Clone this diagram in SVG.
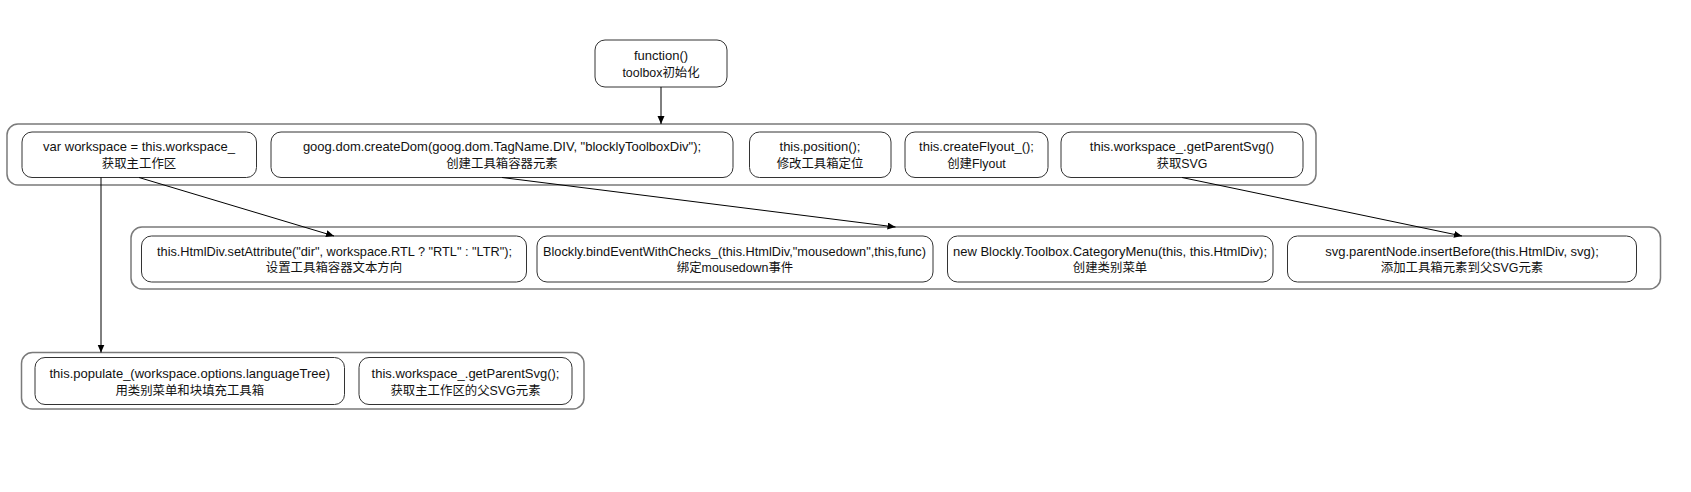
<svg xmlns="http://www.w3.org/2000/svg" width="1691" height="492" viewBox="0 0 1691 492">
<style>
  .outer { fill: #ffffff; stroke: #7a7a7a; stroke-width: 1.5; }
  .node { fill: #ffffff; stroke: #333333; stroke-width: 1; }
  text { font-family: "Liberation Sans", "Noto Sans CJK SC", sans-serif; font-size: 13px; fill: #111111; text-anchor: middle; }
  .l2 { font-size: 12.4px; }
  .conn { stroke: #000000; stroke-width: 1; fill: none; marker-end: url(#arrow); }
</style>
<defs>
  <marker id="arrow" markerUnits="userSpaceOnUse" markerWidth="9" markerHeight="8" refX="8" refY="3.5" orient="auto">
    <path d="M0,0 L8,3.5 L0,7 z" fill="#000000"/>
  </marker>
</defs>
<rect width="1691" height="492" fill="#ffffff"/>

<g id="group-row1">
  <rect class="outer" x="7" y="124" width="1309" height="61" rx="11"/>
</g>
<g id="group-row2">
  <rect class="outer" x="131" y="227" width="1529.5" height="62" rx="11"/>
</g>
<g id="group-row3">
  <rect class="outer" x="21.5" y="352.5" width="562.5" height="56.5" rx="11"/>
</g>

<g id="node-function">
  <rect class="node" x="595" y="40" width="132" height="47" rx="10"/>
  <text x="661" y="60">function()</text>
  <text class="l2" x="661" y="77">toolbox初始化</text>
</g>

<g id="node-workspace">
  <rect class="node" x="22" y="132" width="234.5" height="45.5" rx="10"/>
  <text x="139" y="151">var workspace = this.workspace_</text>
  <text class="l2" x="139" y="167.5">获取主工作区</text>
</g>
<g id="node-createDom">
  <rect class="node" x="271" y="132" width="462" height="45.5" rx="10"/>
  <text x="502" y="151">goog.dom.createDom(goog.dom.TagName.DIV, "blocklyToolboxDiv");</text>
  <text class="l2" x="502" y="167.5">创建工具箱容器元素</text>
</g>
<g id="node-position">
  <rect class="node" x="749.5" y="132" width="141.5" height="45.5" rx="10"/>
  <text x="820" y="151">this.position();</text>
  <text class="l2" x="820" y="167.5">修改工具箱定位</text>
</g>
<g id="node-createFlyout">
  <rect class="node" x="905" y="132" width="143" height="45.5" rx="10"/>
  <text x="976.5" y="151">this.createFlyout_();</text>
  <text class="l2" x="976.5" y="167.5">创建Flyout</text>
</g>
<g id="node-getParentSvg">
  <rect class="node" x="1061" y="132" width="242" height="45.5" rx="10"/>
  <text x="1182" y="151">this.workspace_.getParentSvg()</text>
  <text class="l2" x="1182" y="167.5">获取SVG</text>
</g>

<g id="node-setAttribute">
  <rect class="node" x="141.5" y="236" width="385" height="46" rx="10"/>
  <text x="334.5" y="255.5" textLength="355" lengthAdjust="spacingAndGlyphs">this.HtmlDiv.setAttribute("dir", workspace.RTL ? "RTL" : "LTR");</text>
  <text class="l2" x="334" y="272">设置工具箱容器文本方向</text>
</g>
<g id="node-bindEvent">
  <rect class="node" x="537" y="236" width="396" height="46" rx="10"/>
  <text x="734.5" y="255.5" textLength="383" lengthAdjust="spacingAndGlyphs">Blockly.bindEventWithChecks_(this.HtmlDiv,"mousedown",this,func)</text>
  <text class="l2" x="735" y="272">绑定mousedown事件</text>
</g>
<g id="node-categoryMenu">
  <rect class="node" x="947.5" y="236" width="325.5" height="46" rx="10"/>
  <text x="1110" y="255.5">new Blockly.Toolbox.CategoryMenu(this, this.HtmlDiv);</text>
  <text class="l2" x="1110" y="272">创建类别菜单</text>
</g>
<g id="node-insertBefore">
  <rect class="node" x="1287.5" y="236" width="349" height="46" rx="10"/>
  <text x="1462" y="255.5">svg.parentNode.insertBefore(this.HtmlDiv, svg);</text>
  <text class="l2" x="1462" y="272">添加工具箱元素到父SVG元素</text>
</g>

<g id="node-populate">
  <rect class="node" x="35" y="357.5" width="309.5" height="47" rx="10"/>
  <text x="189.75" y="377.5">this.populate_(workspace.options.languageTree)</text>
  <text class="l2" x="189.75" y="394.5">用类别菜单和块填充工具箱</text>
</g>
<g id="node-getParentSvg2">
  <rect class="node" x="359" y="357.5" width="213" height="47" rx="10"/>
  <text x="465.5" y="377.5">this.workspace_.getParentSvg();</text>
  <text class="l2" x="465.5" y="394.5">获取主工作区的父SVG元素</text>
</g>

<g id="connectors">
  <path class="conn" d="M661 87 V124"/>
  <path class="conn" d="M139 177.5 L334 236"/>
  <path class="conn" d="M502 177.5 L895.5 227"/>
  <path class="conn" d="M1182 177.5 L1462 236"/>
  <path class="conn" d="M101 177.5 V352.5"/>
</g>
</svg>
